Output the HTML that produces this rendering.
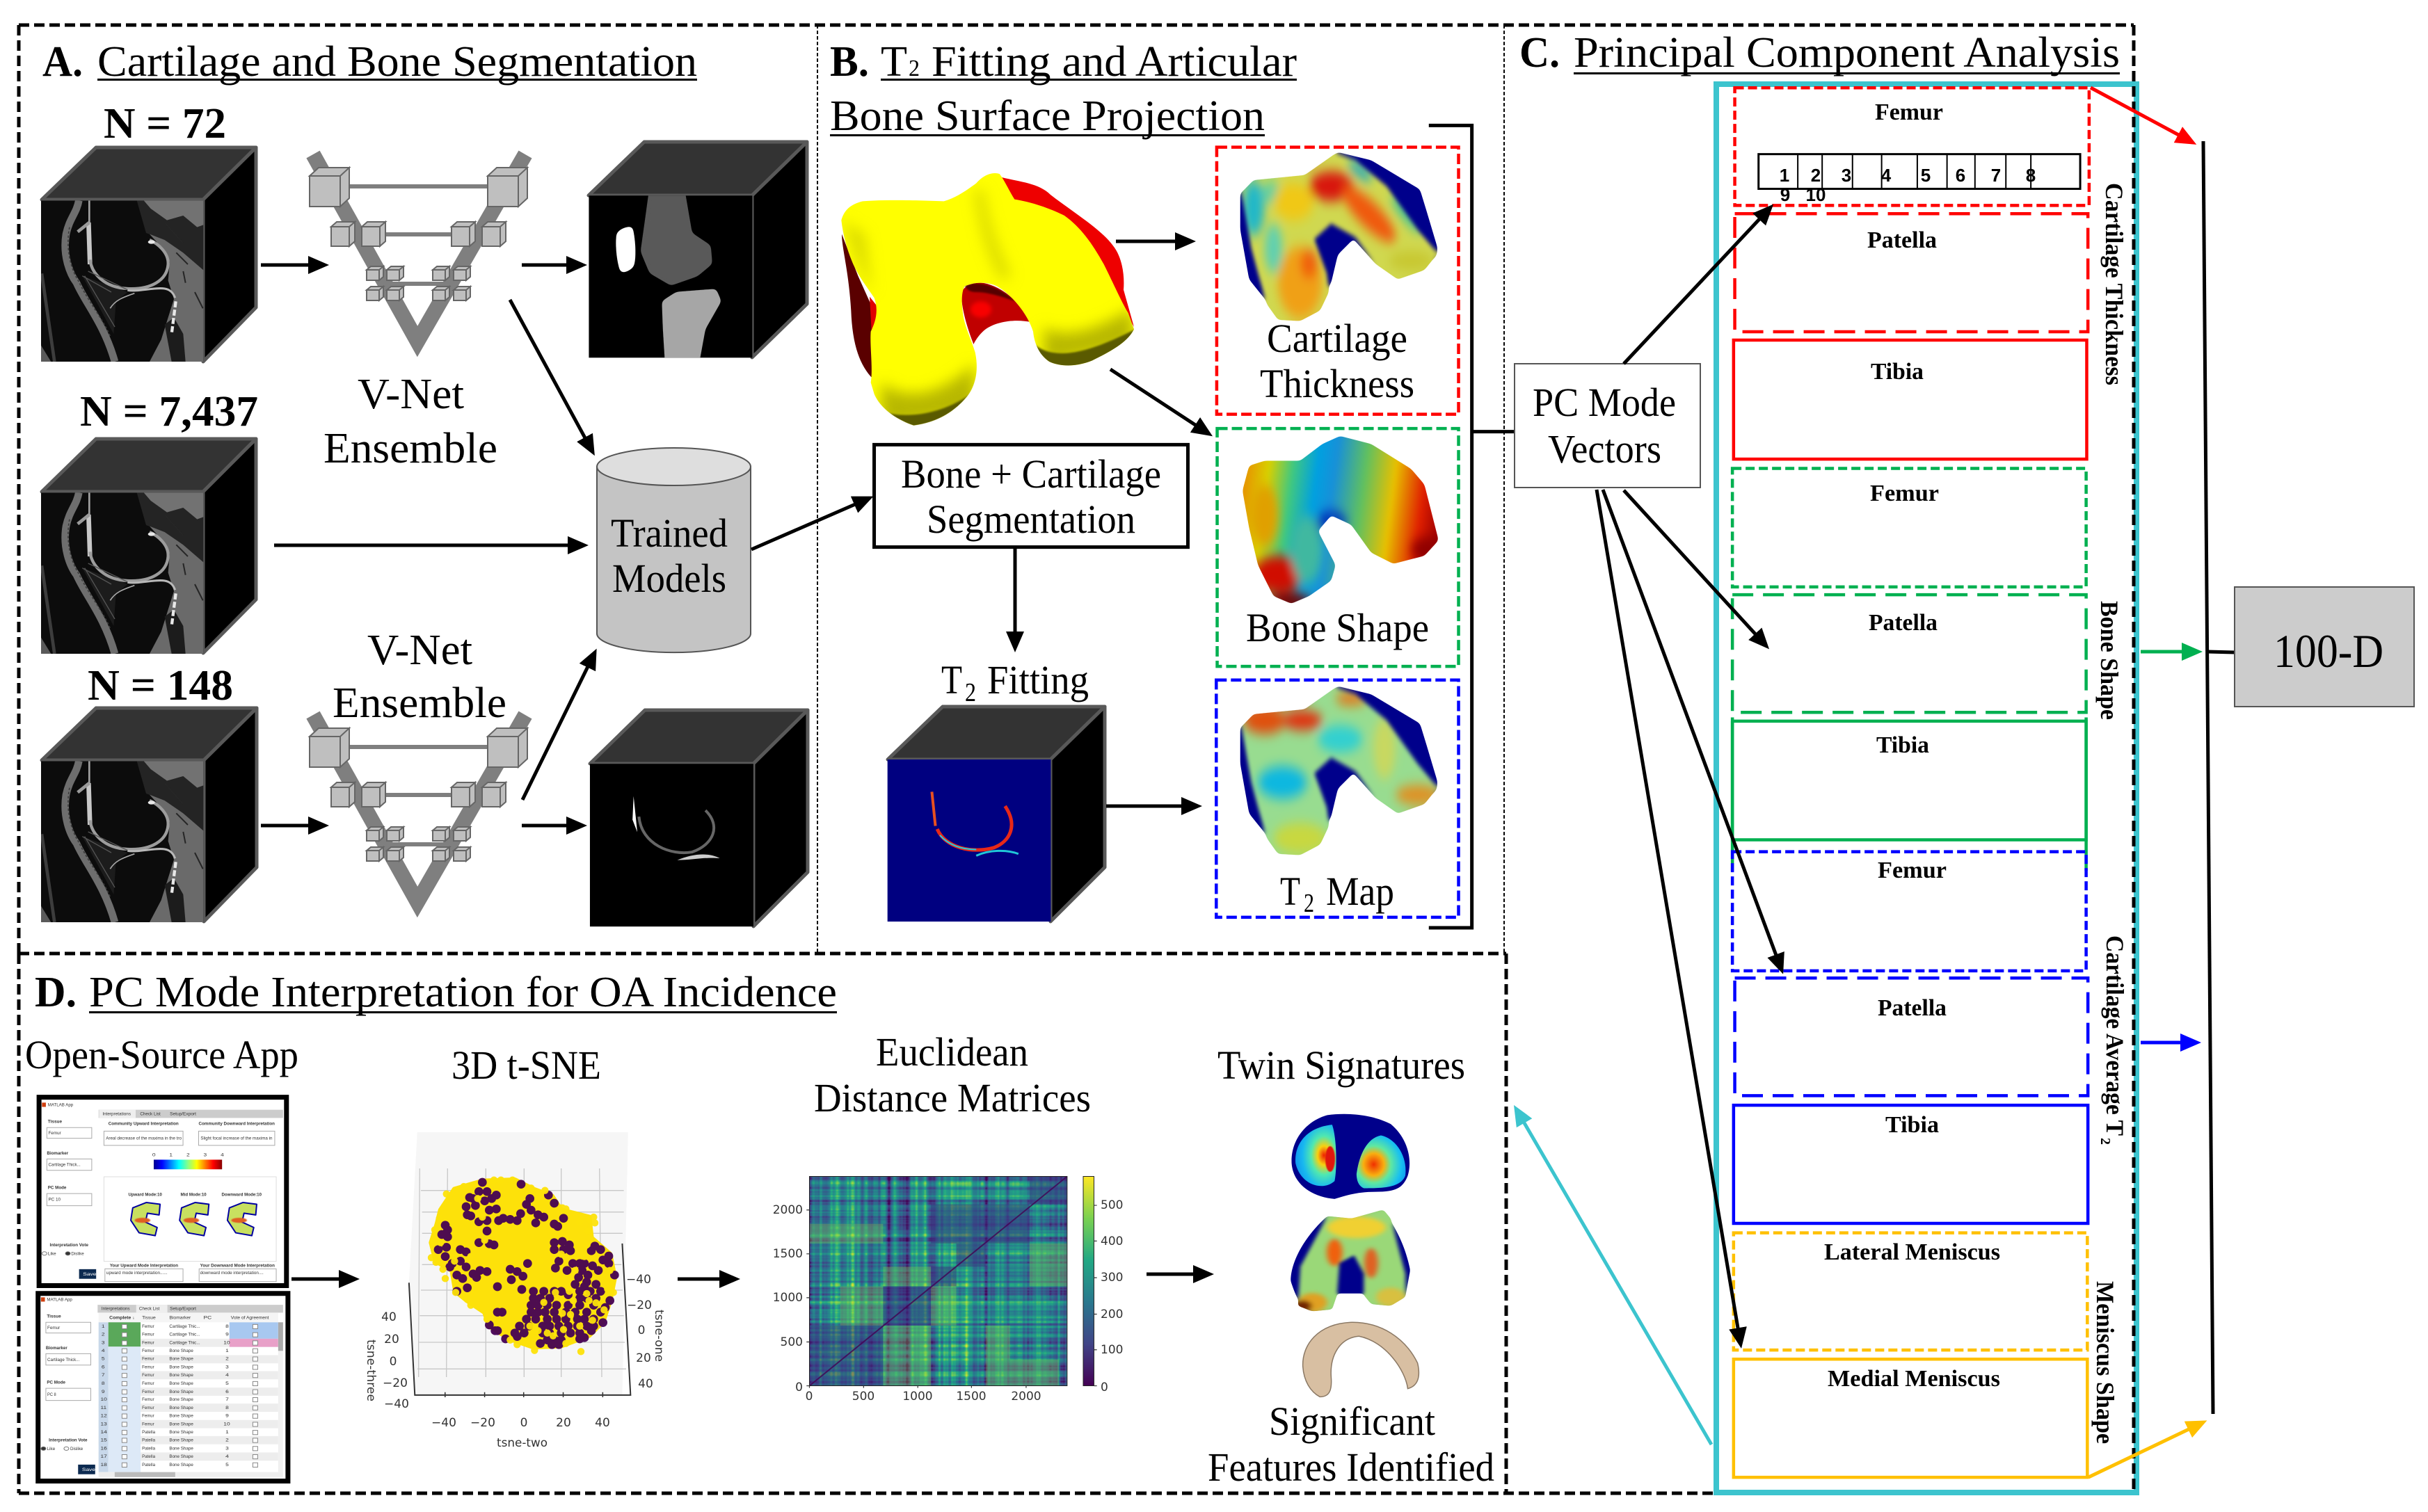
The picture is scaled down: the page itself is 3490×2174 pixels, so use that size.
<!DOCTYPE html>
<html><head><meta charset="utf-8"><title>Knee MRI PCA pipeline</title>
<style>
html,body{margin:0;padding:0;background:#fff}
svg{display:block}
text{font-family:"Liberation Serif",serif;fill:#000}
.z *{vector-effect:non-scaling-stroke}
.b{font-weight:bold}
.t{font-size:62px}
.m{font-size:58px}
.l{font-size:34px;font-weight:bold}
.s{font-family:"Liberation Sans",sans-serif!important}
.a text{font-family:"Liberation Sans",sans-serif;font-size:12px;fill:#333}
.d{font-family:"DejaVu Sans",sans-serif!important;font-size:17px;fill:#333!important}
.dash{fill:none;stroke:#000;stroke-width:5;stroke-dasharray:15 7}
.ar{fill:none;stroke:#000;stroke-width:5;marker-end:url(#mk)}
</style></head><body>
<svg xmlns="http://www.w3.org/2000/svg" width="3490" height="2174" viewBox="0 0 3490 2174">
<defs>
<marker id="mk" markerUnits="userSpaceOnUse" markerWidth="30" markerHeight="30" refX="24" refY="15" orient="auto"><path d="M0,2 L30,15 L0,28Z" fill="#000"/></marker>
<marker id="mr" markerUnits="userSpaceOnUse" markerWidth="30" markerHeight="30" refX="24" refY="15" orient="auto"><path d="M0,2 L30,15 L0,28Z" fill="#f00"/></marker>
<marker id="mg" markerUnits="userSpaceOnUse" markerWidth="30" markerHeight="30" refX="24" refY="15" orient="auto"><path d="M0,2 L30,15 L0,28Z" fill="#00b050"/></marker>
<marker id="mb" markerUnits="userSpaceOnUse" markerWidth="30" markerHeight="30" refX="24" refY="15" orient="auto"><path d="M0,2 L30,15 L0,28Z" fill="#00f"/></marker>
<marker id="my" markerUnits="userSpaceOnUse" markerWidth="30" markerHeight="30" refX="24" refY="15" orient="auto"><path d="M0,2 L30,15 L0,28Z" fill="#ffc000"/></marker>
<marker id="mt" markerUnits="userSpaceOnUse" markerWidth="30" markerHeight="30" refX="24" refY="15" orient="auto"><path d="M0,2 L30,15 L0,28Z" fill="#3cc4ce"/></marker>
<filter id="bl" x="-30%" y="-30%" width="160%" height="160%"><feGaussianBlur stdDeviation="9"/></filter>
<filter id="bm" x="-30%" y="-30%" width="160%" height="160%"><feGaussianBlur stdDeviation="4"/></filter>
<filter id="bs" x="-30%" y="-30%" width="160%" height="160%"><feGaussianBlur stdDeviation="1"/></filter>
<filter id="b3" x="-30%" y="-30%" width="160%" height="160%"><feGaussianBlur stdDeviation="3"/></filter>
<filter id="b20" x="-30%" y="-30%" width="160%" height="160%"><feGaussianBlur stdDeviation="30"/></filter>
<filter id="rnd" x="-5%" y="-5%" width="110%" height="110%" color-interpolation-filters="sRGB"><feGaussianBlur stdDeviation="4"/><feColorMatrix values="1 0 0 0 0 0 1 0 0 0 0 0 1 0 0 0 0 0 14 -6.500"/></filter>
<filter id="hm" x="0" y="0" width="100%" height="100%" color-interpolation-filters="sRGB">
<feTurbulence type="fractalNoise" baseFrequency="0.09 0.0004" numOctaves="2" seed="4" result="a"/>
<feTurbulence type="fractalNoise" baseFrequency="0.0004 0.08" numOctaves="2" seed="9" result="b"/>
<feComposite in="a" in2="b" operator="arithmetic" k1="0" k2="0.5" k3="0.5" k4="0"/>
<feColorMatrix values="1.8 0 0 0 -0.46 1.8 0 0 0 -0.46 1.8 0 0 0 -0.46 0 0 0 0 1"/>
<feComponentTransfer>
<feFuncR type="table" tableValues="0.27 0.25 0.16 0.13 0.48 0.99"/>
<feFuncG type="table" tableValues="0 0.27 0.47 0.66 0.82 0.91"/>
<feFuncB type="table" tableValues="0.33 0.53 0.56 0.52 0.32 0.15"/>
</feComponentTransfer></filter>
<linearGradient id="vir" x1="0" y1="1" x2="0" y2="0"><stop offset="0" stop-color="#440154"/><stop offset=".2" stop-color="#414487"/><stop offset=".4" stop-color="#2a788e"/><stop offset=".6" stop-color="#22a884"/><stop offset=".8" stop-color="#7ad151"/><stop offset="1" stop-color="#fde725"/></linearGradient>
<linearGradient id="jet"><stop offset="0" stop-color="#00008f"/><stop offset=".12" stop-color="#00f"/><stop offset=".37" stop-color="#0ff"/><stop offset=".5" stop-color="#8f8"/><stop offset=".63" stop-color="#ff0"/><stop offset=".87" stop-color="#f00"/><stop offset="1" stop-color="#800"/></linearGradient>
<linearGradient id="bone" gradientUnits="userSpaceOnUse" x1="950" y1="780" x2="1390" y2="860"><stop offset="0" stop-color="#e89000"/><stop offset=".12" stop-color="#d8d000"/><stop offset=".24" stop-color="#40c880"/><stop offset=".36" stop-color="#00a0e0"/><stop offset=".45" stop-color="#1890d8"/><stop offset=".6" stop-color="#60c060"/><stop offset=".75" stop-color="#e8c000"/><stop offset=".9" stop-color="#e02000"/><stop offset="1" stop-color="#a00000"/></linearGradient>
<radialGradient id="tj" cx=".7" cy=".5" r=".7"><stop offset="0" stop-color="#f02000"/><stop offset=".22" stop-color="#f8d010"/><stop offset=".45" stop-color="#50e8b0"/><stop offset=".75" stop-color="#18b8f0"/><stop offset="1" stop-color="#1098f0"/></radialGradient>
<radialGradient id="tj2" cx=".35" cy=".55" r=".7"><stop offset="0" stop-color="#f03000"/><stop offset=".3" stop-color="#f8b010"/><stop offset=".5" stop-color="#60e8a0"/><stop offset=".8" stop-color="#18c0f0"/><stop offset="1" stop-color="#1098f0"/></radialGradient>
<clipPath id="cpK"><path d="M948,310 L975,290 L1090,282 L1160,247 L1205,258 L1275,300 L1345,370 L1390,408 L1360,435 L1300,450 L1250,425 L1205,382 L1150,360 L1112,385 L1140,440 L1145,470 L1125,500 L1080,517 L1030,515 L1005,490 L985,440 L970,400 L960,360Z"/></clipPath>
<clipPath id="cpB"><path d="M950,790 L965,750 L1000,742 L1080,742 L1130,715 L1170,702 L1240,715 L1330,755 L1360,780 L1392,870 L1360,895 L1290,908 L1240,890 L1195,845 L1150,830 L1120,855 L1160,910 L1150,935 L1100,960 L1060,972 L1020,960 L985,910 L965,850Z"/></clipPath>
<clipPath id="cpF"><path d="M1180,738 L1230,745 L1295,720 L1310,745 L1340,900 L1340,965 L1310,990 L1270,985 L1255,960 L1255,900 L1235,848 L1205,870 L1200,960 L1190,1000 L1150,1005 L1120,990 L1125,880 L1160,790Z"/></clipPath>
<clipPath id="cpM"><rect x="27" y="25" width="700" height="695"/></clipPath>
<clipPath id="cpS"><rect x="1106" y="315" width="307" height="261"/></clipPath>
<clipPath id="cpY"><path id="yp" d="M28,260 C40,215 70,190 120,178 C230,170 380,175 470,178 C520,165 570,130 610,100 C640,65 680,50 710,60 C730,85 750,130 775,170 C840,180 920,205 990,240 C1060,290 1110,360 1160,450 C1200,530 1240,620 1265,660 L1290,730 C1260,790 1180,830 1110,865 C1050,890 980,895 925,870 C880,840 860,790 855,740 C830,660 760,580 700,545 C660,525 600,525 560,545 C545,570 545,620 555,680 C565,730 590,780 605,830 C620,900 610,970 570,1020 C520,1080 450,1130 340,1145 C280,1125 200,1080 170,1010 L155,960 C165,900 150,800 155,740 C175,700 190,650 170,595 C140,550 100,500 75,440 C50,380 35,320 28,260Z"/></clipPath>
<g id="kback"><path d="M945,310 L945,370 L965,450 L1010,490 L1130,480 L1150,455 L1165,410 L1200,385 L1250,425 L1290,440 L1385,415 L1390,400 L1365,340 L1350,305 L1240,258 L1165,245 L1100,300Z" fill="#00008b"/></g>
<g id="bL"><path d="M0,0H44V44H0Z M0,0L13,-12H57L44,0Z M44,0L57,-12V32L44,44Z" fill="#bfbfbf" stroke="#666" stroke-width="2"/></g>
<g id="bM"><path d="M0,0H26V28H0Z M0,0L8,-7H34L26,0Z M26,0L34,-7V21L26,28Z" fill="#bfbfbf" stroke="#666" stroke-width="2"/></g>
<g id="bS"><path d="M0,0H18V15H0Z M0,0L6,-5H24L18,0Z M18,0L24,-5V10L18,15Z" fill="#bfbfbf" stroke="#666" stroke-width="2"/></g>
<g id="vnet">
<polyline points="450,222 600,491 755,222" fill="none" stroke="#7f7f7f" stroke-width="22"/>
<path d="M490,268H705 M545,337H652 M545,408H655" stroke="#7f7f7f" stroke-width="6" fill="none"/>
<use href="#bL" x="445" y="253"/><use href="#bL" x="701" y="253"/>
<use href="#bM" x="476" y="326"/><use href="#bM" x="520" y="326"/><use href="#bM" x="649" y="326"/><use href="#bM" x="693" y="326"/>
<use href="#bS" x="527" y="388"/><use href="#bS" x="556" y="388"/><use href="#bS" x="622" y="388"/><use href="#bS" x="652" y="388"/>
<use href="#bS" x="527" y="417"/><use href="#bS" x="556" y="417"/><use href="#bS" x="622" y="417"/><use href="#bS" x="652" y="417"/>
</g>
<g id="mri" transform="translate(50,280) scale(.33333)"><g clip-path="url(#cpM)">
<rect x="27" y="25" width="700" height="695" fill="#0c0c0c"/>
<path d="M440,25L470,25L500,60L570,110L640,90L700,140L727,130V325L640,250L560,195L480,165Z" fill="#242424"/>
<path d="M470,25H727V130L700,140L640,90L570,110L500,60Z" fill="#727272"/>
<path d="M495,170L560,195L640,250L727,325V720H495L545,625L600,450L575,370L582,290L545,225Z" fill="#6a6a6a"/>
<path d="M560,560L600,530L640,600L650,720H590Z" fill="#1c1c1c"/>
<path d="M27,650L70,720H27Z" fill="#5a5a5a"/>
<path d="M205,350L400,420L350,460L340,600Z" fill="#1c1c1c"/>
<g fill="none" filter="url(#bs)">
<path d="M30,340L85,720" stroke="#3e3e3e" stroke-width="14"/>
<path d="M190,25C180,80 150,100 135,170C120,260 150,340 180,380C220,470 300,560 345,720" stroke="#6e6e6e" stroke-width="32"/>
<path d="M150,140C130,240 160,330 190,375C230,460 290,530 325,610" stroke="#3e3e3e" stroke-width="5" stroke-dasharray="10 8"/>
<path d="M235,25L235,230" stroke="#a0a0a0" stroke-width="8"/>
<path d="M232,120L238,300" stroke="#c8c8c8" stroke-width="20"/>
<path d="M235,120L185,160" stroke="#9a9a9a" stroke-width="14"/>
<path d="M238,280C245,340 300,400 400,405C500,410 570,370 575,300C578,250 530,210 495,195" stroke="#9c9c9c" stroke-width="13"/>
<path d="M400,412C440,420 520,398 560,405C590,410 600,430 605,445" stroke="#b8b8b8" stroke-width="9"/>
<path d="M430,425C390,440 350,450 325,490" stroke="#a8a8a8" stroke-width="5"/>
<path d="M205,350L330,420M215,350L345,570M230,330L400,410" stroke="#555" stroke-width="4"/>
<path d="M608,460L590,600" stroke="#e8e8e8" stroke-width="13" stroke-dasharray="26 10"/>
<path d="M640,330L650,380M690,420L725,490M610,250L660,300M560,120L640,210" stroke="#252525" stroke-width="6"/>
<ellipse cx="503" cy="204" rx="15" ry="8" fill="#e8e8e8" stroke="none"/>
</g></g></g>
</defs>
<rect width="3490" height="2174" fill="#fff"/>

<!-- frames -->
<path d="M27,36H3067 M27,36V1371 M27,1371H2165 M27,1371V2147 M27,2147H2467 M2165,1371V2147" class="dash"/>
<path d="M1175,36V1371 M2162,36V1370" fill="none" stroke="#000" stroke-width="2" stroke-dasharray="5 3"/>

<!-- Section A -->
<text x="61" y="109" class="t b" textLength="58" lengthAdjust="spacingAndGlyphs">A.</text>
<text x="140" y="109" class="t" textLength="862" lengthAdjust="spacingAndGlyphs">Cartilage and Bone Segmentation</text>
<rect x="140" y="113" width="862" height="3"/>
<text x="149" y="198" class="t b" textLength="176" lengthAdjust="spacingAndGlyphs">N = 72</text>
<text x="115" y="612" class="t b" textLength="256" lengthAdjust="spacingAndGlyphs">N = 7,437</text>
<text x="126" y="1006" class="t b" textLength="209" lengthAdjust="spacingAndGlyphs">N = 148</text>

<!-- cubes -->
<g stroke="#595959" stroke-width="5" stroke-linejoin="round">
<path d="M60,287L138,212H368L292,287Z" fill="#333"/><path d="M292,287L368,212V442L292,520Z" fill="#000"/>
<path d="M60,707L138,631H368L292,707Z" fill="#333"/><path d="M292,707L368,631V862L292,939Z" fill="#000"/>
<path d="M60,1093L138,1018H369L293,1093Z" fill="#333"/><path d="M293,1093L369,1018V1247L293,1325Z" fill="#000"/>
<path d="M846,281L926,204H1160L1081,281Z" fill="#333"/><path d="M1081,281L1160,204V437L1081,514Z" fill="#000"/>
<path d="M848,1098L927,1021H1161L1083,1098Z" fill="#333"/><path d="M1083,1098L1161,1021V1254L1083,1332Z" fill="#000"/>
<path d="M1355,1016L1276,1092H1510L1588,1016Z" fill="#333"/><path d="M1510,1092L1588,1016V1247L1510,1325Z" fill="#000"/>
</g>
<use href="#mri"/><use href="#mri" y="420"/><use href="#mri" y="806"/>
<g class="z" transform="scale(.7653,.8929)">
<rect x="1106" y="315" width="307" height="261" fill="#000"/>
<g clip-path="url(#cpS)"><g filter="url(#rnd)">
<path d="M1220,300L1285,300L1300,375L1335,395L1338,425L1310,445L1260,460L1220,440L1203,405L1212,350Z" fill="#595959"/>
<path d="M1158,375C1170,365 1180,365 1188,365C1195,390 1195,420 1190,430C1180,438 1170,440 1165,438C1158,420 1155,395 1158,375Z" fill="#fff"/>
<path d="M1243,485L1270,470L1345,465L1355,485L1325,530L1310,600L1250,600L1245,530Z" fill="#a6a6a6"/>
</g></g>
<rect x="1108" y="1230" width="307" height="262" fill="#000"/>
<path d="M1190,1282L1197,1340L1188,1320Z" fill="#fff"/>
<path d="M1200,1315C1205,1360 1260,1378 1300,1372C1340,1360 1355,1330 1325,1305" fill="none" stroke="#666" stroke-width="4"/>
<path d="M1272,1385C1300,1375 1330,1372 1352,1382C1320,1380 1300,1385 1272,1385Z" fill="#ccc"/>
</g>
<use href="#vnet"/><use href="#vnet" transform="translate(0,806)"/>
<text x="514" y="587" class="t" textLength="153" lengthAdjust="spacingAndGlyphs">V-Net</text>
<text x="465" y="665" class="t" textLength="250" lengthAdjust="spacingAndGlyphs">Ensemble</text>
<text x="528" y="955" class="t" textLength="151" lengthAdjust="spacingAndGlyphs">V-Net</text>
<text x="478" y="1031" class="t" textLength="250" lengthAdjust="spacingAndGlyphs">Ensemble</text>

<!-- cylinder -->
<path d="M858,671V911A110,27 0 0 0 1079,911V671Z" fill="#c4c4c4" stroke="#555" stroke-width="2"/>
<ellipse cx="968.500" cy="671" rx="110.500" ry="27" fill="#dedede" stroke="#555" stroke-width="2"/>
<text x="878" y="786" class="m" textLength="168" lengthAdjust="spacingAndGlyphs">Trained</text>
<text x="880" y="851" class="m" textLength="164" lengthAdjust="spacingAndGlyphs">Models</text>

<g>
<line x1="375" y1="381" x2="467" y2="381" class="ar"/><line x1="750" y1="381" x2="838" y2="381" class="ar"/>
<line x1="375" y1="1187" x2="467" y2="1187" class="ar"/><line x1="750" y1="1187" x2="838" y2="1187" class="ar"/>
<line x1="733" y1="431" x2="852" y2="650" class="ar"/>
<line x1="394" y1="784" x2="840" y2="784" class="ar"/>
<line x1="751" y1="1150" x2="855" y2="938" class="ar"/>
<line x1="1080" y1="790" x2="1250" y2="716" class="ar"/>
</g>

<!-- Section B -->
<text x="1193" y="109" class="t b" textLength="56" lengthAdjust="spacingAndGlyphs">B.</text>
<text x="1266" y="109" class="t" textLength="38" lengthAdjust="spacingAndGlyphs">T</text>
<text x="1306" y="109" font-size="34" textLength="16" lengthAdjust="spacingAndGlyphs">2</text>
<text x="1339" y="109" class="t" textLength="525" lengthAdjust="spacingAndGlyphs">Fitting and Articular</text>
<rect x="1266" y="113" width="598" height="3"/>
<text x="1193" y="187" class="t" textLength="625" lengthAdjust="spacingAndGlyphs">Bone Surface Projection</text>
<rect x="1193" y="193" width="625" height="3"/>

<!-- big femur -->
<g transform="translate(1200,230) scale(.33333)">
<path d="M720,75C800,95 880,100 930,150C1020,220 1150,300 1200,370C1240,420 1250,500 1245,560L1290,720L1100,400L760,170Z" fill="#ee0000"/>
<path d="M30,320C30,380 60,480 70,650C75,780 100,880 165,945L190,700L100,500Z" fill="#5a0000"/>
<path d="M150,590L190,640L160,770Z" fill="#e00000"/>
<path d="M545,570C560,540 610,520 660,535C740,560 800,620 850,700C780,685 700,695 650,730C630,745 610,770 598,795C570,720 545,640 545,570Z" fill="#c00000"/>
<path d="M560,540C620,520 700,540 780,610C720,590 660,570 610,570C590,570 570,565 560,540Z" fill="#560000" filter="url(#bm)"/>
<ellipse cx="630" cy="645" rx="45" ry="35" fill="#f80000" filter="url(#bl)"/>
<use href="#yp" fill="#ffff00"/>
<g clip-path="url(#cpY)">
<g filter="url(#b20)" fill="#b8b800">
<path d="M600,130C620,250 640,380 720,520L760,500C700,380 660,260 640,130Z" opacity=".55"/>
<path d="M30,260C60,330 80,420 160,580L130,320Z" opacity=".5"/>
<path d="M900,720C1000,780 1150,720 1280,640L1290,800L900,880Z"/>
<path d="M200,960C300,1040 450,1020 600,880L610,1100L200,1150Z"/>
</g>
<path d="M170,1075C280,1120 450,1110 600,1000L580,1160H170Z" fill="#5a5a00" filter="url(#bm)"/>
<path d="M860,795C950,870 1100,830 1295,730L1300,900H860Z" fill="#5a5a00" filter="url(#bm)"/>
</g></g>

<g class="z" transform="translate(1180,0) scale(.6378,.8929)">
<!-- cartilage thickness knee -->
<g filter="url(#rnd)">
<use href="#kback"/>
<g clip-path="url(#cpK)"><rect x="940" y="240" width="460" height="290" fill="#d0d850"/>
<g filter="url(#bl)">
<ellipse cx="975" cy="335" rx="24" ry="45" fill="#20b8c8"/>
<ellipse cx="1015" cy="310" rx="22" ry="18" fill="#60d0a0"/>
<ellipse cx="1065" cy="325" rx="45" ry="30" fill="#f0c818"/>
<ellipse cx="1150" cy="300" rx="50" ry="24" fill="#d81808"/>
<ellipse cx="1235" cy="345" rx="72" ry="22" fill="#f05808" transform="rotate(35 1235 345)"/>
<ellipse cx="1215" cy="275" rx="30" ry="10" fill="#20a8c0" transform="rotate(30 1215 275)"/>
<ellipse cx="1320" cy="345" rx="45" ry="10" fill="#30c0a0" transform="rotate(40 1320 345)"/>
<ellipse cx="1080" cy="455" rx="50" ry="58" fill="#f0a018"/>
<ellipse cx="1100" cy="425" rx="20" ry="24" fill="#f06010"/>
<ellipse cx="1020" cy="400" rx="20" ry="40" fill="#60d0b0"/>
<ellipse cx="1330" cy="420" rx="50" ry="16" fill="#c8c830"/>
</g></g></g>
<!-- bone -->
<g filter="url(#rnd)">
<path d="M950,790 L965,750 L1000,742 L1080,742 L1130,715 L1170,702 L1240,715 L1330,755 L1360,780 L1392,870 L1360,895 L1290,908 L1240,890 L1195,845 L1150,830 L1120,855 L1160,910 L1150,935 L1100,960 L1060,972 L1020,960 L985,910 L965,850Z" fill="url(#bone)"/>
<g clip-path="url(#cpB)"><g filter="url(#bl)">
<ellipse cx="1030" cy="925" rx="55" ry="30" fill="#d01000"/>
<ellipse cx="1000" cy="830" rx="30" ry="50" fill="#e0a000"/>
<ellipse cx="1150" cy="845" rx="35" ry="22" fill="#0030b8"/>
<ellipse cx="1095" cy="885" rx="35" ry="55" fill="#40b8a0"/>
<ellipse cx="1060" cy="970" rx="50" ry="15" fill="#700000"/>
<ellipse cx="1370" cy="885" rx="40" ry="20" fill="#900000"/>
</g></g></g>
<!-- T2 knee -->
<g filter="url(#rnd)">
<use href="#kback" transform="translate(0,860)"/>
<g clip-path="url(#cpK)" transform="translate(0,860)"><rect x="940" y="240" width="460" height="290" fill="#98dc90"/>
<g filter="url(#bl)">
<ellipse cx="1000" cy="300" rx="48" ry="22" fill="#e05010"/>
<ellipse cx="1085" cy="300" rx="45" ry="16" fill="#e03010"/>
<ellipse cx="1195" cy="265" rx="35" ry="10" fill="#e87010"/>
<ellipse cx="1040" cy="400" rx="55" ry="26" fill="#10b8e0"/>
<ellipse cx="1080" cy="490" rx="60" ry="25" fill="#c8d840"/>
<ellipse cx="1345" cy="420" rx="50" ry="16" fill="#e09020"/>
<ellipse cx="1170" cy="330" rx="50" ry="22" fill="#30d0d0"/>
<ellipse cx="1270" cy="345" rx="25" ry="50" fill="#c8d860"/>
</g></g></g>
<!-- T2 cube front -->
<rect x="150" y="1223" width="368" height="261" fill="#000080"/>
<g fill="none" stroke-width="3">
<path d="M250,1275L258,1330" stroke="#e85020" stroke-width="4"/>
<path d="M262,1335C280,1365 340,1375 390,1365C425,1355 445,1330 415,1298" stroke="#e82818" stroke-width="5"/>
<path d="M268,1345C290,1362 320,1368 350,1368" stroke="#20d0e0" stroke-width="2"/>
<path d="M350,1378C380,1368 420,1368 445,1375" stroke="#20c8d8"/>
</g>
<g fill="none" stroke-width="4.500" stroke-dasharray="15 6">
<rect x="892" y="237" width="545" height="430" stroke="#f00"/>
<rect x="893" y="690" width="544" height="383" stroke="#00b050"/>
<rect x="891" y="1095" width="546" height="382" stroke="#00f"/>
</g>
<path d="M1370,202H1467V1494H1370" fill="none" stroke="#000" stroke-width="5"/>
<path d="M1467,695H1563" fill="none" stroke="#000" stroke-width="5"/>
<rect x="120" y="716" width="707" height="165" fill="#fff" stroke="#000" stroke-width="5"/>
</g>
<text x="1821" y="506" class="m" textLength="202" lengthAdjust="spacingAndGlyphs">Cartilage</text>
<text x="1811" y="571" class="m" textLength="222" lengthAdjust="spacingAndGlyphs">Thickness</text>
<text x="1791" y="922" class="m" textLength="263" lengthAdjust="spacingAndGlyphs">Bone Shape</text>
<text x="1840" y="1301" class="m" textLength="29" lengthAdjust="spacingAndGlyphs">T</text>
<text x="1874" y="1311" font-size="38" textLength="15" lengthAdjust="spacingAndGlyphs">2</text>
<text x="1906" y="1301" class="m" textLength="98" lengthAdjust="spacingAndGlyphs">Map</text>
<text x="1353" y="997" class="m" textLength="30" lengthAdjust="spacingAndGlyphs">T</text>
<text x="1387" y="1008" font-size="38" textLength="16" lengthAdjust="spacingAndGlyphs">2</text>
<text x="1419" y="997" class="m" textLength="146" lengthAdjust="spacingAndGlyphs">Fitting</text>
<text x="1295" y="701" class="m" textLength="374" lengthAdjust="spacingAndGlyphs">Bone + Cartilage</text>
<text x="1332" y="766" class="m" textLength="300" lengthAdjust="spacingAndGlyphs">Segmentation</text>
<line x1="1604" y1="347" x2="1713" y2="347" class="ar"/>
<line x1="1596" y1="531" x2="1738" y2="624" class="ar"/>
<line x1="1459" y1="786" x2="1459" y2="932" class="ar"/>
<line x1="1590" y1="1159" x2="1722" y2="1159" class="ar"/>

<!-- Section C -->
<text x="2184" y="96" class="t b" textLength="58" lengthAdjust="spacingAndGlyphs">C.</text>
<text x="2262" y="96" class="t" textLength="785" lengthAdjust="spacingAndGlyphs">Principal Component Analysis</text>
<rect x="2262" y="104" width="785" height="3"/>
<rect x="2467" y="121" width="604" height="2025" fill="none" stroke="#3cc4ce" stroke-width="8"/>
<line x1="3067" y1="36" x2="3067" y2="2147" class="dash"/>

<g class="z" transform="translate(2150,0) scale(.8546,.7015)" fill="none" stroke-width="4.500">
<rect x="402" y="180" width="596" height="241" stroke="#f00" stroke-dasharray="13 6"/>
<rect x="402" y="438" width="594" height="242" stroke="#f00" stroke-dasharray="30 14"/>
<rect x="400" y="697" width="594" height="244" stroke="#f00"/>
<rect x="398" y="960" width="595" height="243" stroke="#00b050" stroke-dasharray="13 6"/>
<rect x="398" y="1219" width="595" height="241" stroke="#00b050" stroke-dasharray="30 14"/>
<path d="M398,1478H993V1785" stroke="#00b050"/><path d="M398,1478V1785" stroke="#00b050"/>
<rect x="442" y="316" width="541" height="71" stroke="#000" stroke-width="3"/>
<path d="M508,316V387M549,316V387M600,316V387M649,316V387M709,316V387M759,316V387M806,316V387M858,316V387M900,316V387" stroke="#000" stroke-width="2"/>
</g>
<g class="z" transform="translate(2150,1100) scale(.8546,.685)" fill="none" stroke-width="4.500">
<path d="M398,-100V157H993V-100" stroke="#00b050"/>
<rect x="398" y="182" width="595" height="250" stroke="#00f" stroke-dasharray="13 6"/>
<rect x="402" y="447" width="594" height="247" stroke="#00f" stroke-dasharray="30 14"/>
<rect x="400" y="714" width="596" height="248" stroke="#00f"/>
<rect x="400" y="982" width="595" height="246" stroke="#ffc000" stroke-dasharray="13 6"/>
<rect x="400" y="1247" width="595" height="248" stroke="#ffc000"/>
</g>
<g text-anchor="middle" class="s">
<text x="2565" y="261" font-size="26" class="s" font-weight="bold">1</text><text x="2610" y="261" font-size="26" class="s" font-weight="bold">2</text><text x="2654" y="261" font-size="26" class="s" font-weight="bold">3</text><text x="2711" y="261" font-size="26" class="s" font-weight="bold">4</text><text x="2768" y="261" font-size="26" class="s" font-weight="bold">5</text><text x="2818" y="261" font-size="26" class="s" font-weight="bold">6</text><text x="2869" y="261" font-size="26" class="s" font-weight="bold">7</text><text x="2919" y="261" font-size="26" class="s" font-weight="bold">8</text>
<text x="2566" y="289" font-size="26" class="s" font-weight="bold">9</text><text x="2610" y="289" font-size="26" class="s" font-weight="bold">10</text>
</g>
<text x="2695" y="172" class="l" textLength="98" lengthAdjust="spacingAndGlyphs">Femur</text>
<text x="2684" y="356" class="l" textLength="100" lengthAdjust="spacingAndGlyphs">Patella</text>
<text x="2689" y="545" class="l" textLength="76" lengthAdjust="spacingAndGlyphs">Tibia</text>
<text x="2688" y="720" class="l" textLength="99" lengthAdjust="spacingAndGlyphs">Femur</text>
<text x="2686" y="906" class="l" textLength="99" lengthAdjust="spacingAndGlyphs">Patella</text>
<text x="2697" y="1082" class="l" textLength="76" lengthAdjust="spacingAndGlyphs">Tibia</text>
<text x="2699" y="1262" class="l" textLength="99" lengthAdjust="spacingAndGlyphs">Femur</text>
<text x="2699" y="1460" class="l" textLength="99" lengthAdjust="spacingAndGlyphs">Patella</text>
<text x="2710" y="1628" class="l" textLength="77" lengthAdjust="spacingAndGlyphs">Tibia</text>
<text x="2622" y="1811" class="l" textLength="253" lengthAdjust="spacingAndGlyphs">Lateral Meniscus</text>
<text x="2627" y="1993" class="l" textLength="248" lengthAdjust="spacingAndGlyphs">Medial Meniscus</text>
<text transform="translate(3027,263) rotate(90)" font-size="36" class="b" textLength="291" lengthAdjust="spacingAndGlyphs">Cartilage Thickness</text>
<text transform="translate(3020,864) rotate(90)" font-size="36" class="b" textLength="171" lengthAdjust="spacingAndGlyphs">Bone Shape</text>
<text transform="translate(3028,1345) rotate(90)" font-size="36" class="b" textLength="288" lengthAdjust="spacingAndGlyphs">Cartilage Average T</text>
<text transform="translate(3020,1636) rotate(90)" font-size="20" class="b">2</text>
<text transform="translate(3014,1842) rotate(90)" font-size="36" class="b" textLength="234" lengthAdjust="spacingAndGlyphs">Meniscus Shape</text>

<rect x="2177" y="523" width="267" height="178" fill="#fff" stroke="#555" stroke-width="2"/>
<text x="2203" y="598" class="m" textLength="206" lengthAdjust="spacingAndGlyphs">PC Mode</text>
<text x="2225" y="665" class="m" textLength="163" lengthAdjust="spacingAndGlyphs">Vectors</text>
<line x1="2334" y1="523" x2="2545" y2="298" class="ar"/>
<line x1="2334" y1="705" x2="2539" y2="929" class="ar"/>
<line x1="2304" y1="704" x2="2561" y2="1395" class="ar"/>
<line x1="2295" y1="704" x2="2502" y2="1933" class="ar"/>
<line x1="3005" y1="126" x2="3152" y2="205" stroke="#f00" stroke-width="5" marker-end="url(#mr)"/>
<line x1="3167" y1="203" x2="3181" y2="2033" stroke="#000" stroke-width="5"/>
<line x1="3077" y1="937" x2="3160" y2="937" stroke="#00b050" stroke-width="5" marker-end="url(#mg)"/>
<line x1="3077" y1="1499" x2="3158" y2="1499" stroke="#00f" stroke-width="5" marker-end="url(#mb)"/>
<line x1="3002" y1="2124" x2="3167" y2="2045" stroke="#ffc000" stroke-width="5" marker-end="url(#my)"/>
<line x1="2460" y1="2077" x2="2179" y2="1594" stroke="#3cc4ce" stroke-width="5" marker-end="url(#mt)"/>
<line x1="3173" y1="937" x2="3212" y2="938" stroke="#000" stroke-width="5"/>
<rect x="3212" y="844" width="258" height="172" fill="#ccc" stroke="#555" stroke-width="2"/>
<text x="3268" y="959" font-size="68" textLength="158" lengthAdjust="spacingAndGlyphs">100-D</text>

<!-- Section D -->
<text x="50" y="1447" class="t b" textLength="60" lengthAdjust="spacingAndGlyphs">D.</text>
<text x="128" y="1447" class="t" textLength="1075" lengthAdjust="spacingAndGlyphs">PC Mode Interpretation for OA Incidence</text>
<rect x="128" y="1454" width="1075" height="3"/>
<text x="36" y="1536" class="m" textLength="393" lengthAdjust="spacingAndGlyphs">Open-Source App</text>
<text x="649" y="1551" class="m" textLength="215" lengthAdjust="spacingAndGlyphs">3D t-SNE</text>
<text x="1259" y="1532" class="m" textLength="219" lengthAdjust="spacingAndGlyphs">Euclidean</text>
<text x="1170" y="1598" class="m" textLength="398" lengthAdjust="spacingAndGlyphs">Distance Matrices</text>
<text x="1750" y="1551" class="m" textLength="356" lengthAdjust="spacingAndGlyphs">Twin Signatures</text>
<text x="1824" y="2063" class="m" textLength="239" lengthAdjust="spacingAndGlyphs">Significant</text>
<text x="1736" y="2129" class="m" textLength="412" lengthAdjust="spacingAndGlyphs">Features Identified</text>
<line x1="419" y1="1839" x2="511" y2="1839" class="ar"/>
<line x1="974" y1="1839" x2="1058" y2="1839" class="ar"/>
<line x1="1648" y1="1832" x2="1739" y2="1832" class="ar"/>

<!-- App windows -->
<g class="z a" transform="translate(0,1370) scale(.7015,.5128)">
<rect x="80" y="405" width="507" height="528" fill="#fff" stroke="#000" stroke-width="7"/>
<rect x="78" y="955" width="512" height="526" fill="#fff" stroke="#000" stroke-width="7"/>
<!-- window 1 -->
<rect x="202" y="440" width="378" height="23" fill="#ccc"/><rect x="203" y="440" width="75" height="23" fill="#eee"/>
<rect x="86" y="420" width="8" height="12" fill="#d04010"/>
<text x="98" y="430" textLength="52" lengthAdjust="spacingAndGlyphs">MATLAB App</text>
<text x="210" y="455" textLength="58" lengthAdjust="spacingAndGlyphs">Interpretations</text>
<text x="287" y="455" textLength="42" lengthAdjust="spacingAndGlyphs">Check List</text>
<text x="348" y="455" textLength="54" lengthAdjust="spacingAndGlyphs">Setup/Export</text>
<text x="98" y="477" textLength="29" lengthAdjust="spacingAndGlyphs" font-weight="bold">Tissue</text>
<text x="96" y="566" textLength="44" lengthAdjust="spacingAndGlyphs" font-weight="bold">Biomarker</text>
<text x="98" y="662" textLength="38" lengthAdjust="spacingAndGlyphs" font-weight="bold">PC Mode</text>
<g fill="#fff" stroke="#aaa"><rect x="96" y="490" width="92" height="30"/><rect x="96" y="578" width="92" height="32"/><rect x="96" y="675" width="92" height="34"/>
<rect x="213" y="500" width="162" height="40"/><rect x="407" y="500" width="156" height="40"/><rect x="213" y="628" width="353" height="237" stroke="#ddd"/><rect x="215" y="886" width="160" height="36"/><rect x="408" y="886" width="158" height="36"/></g>
<text x="99" y="509" textLength="26" lengthAdjust="spacingAndGlyphs">Femur</text>
<text x="99" y="598" textLength="66" lengthAdjust="spacingAndGlyphs">Cartilage Thick...</text>
<text x="99" y="695" textLength="25" lengthAdjust="spacingAndGlyphs">PC 10</text>
<text x="222" y="483" textLength="144" lengthAdjust="spacingAndGlyphs" font-weight="bold">Community Upward Interpretation</text>
<text x="407" y="483" textLength="156" lengthAdjust="spacingAndGlyphs" font-weight="bold">Community Downward Interpretation</text>
<text x="217" y="524" textLength="155" lengthAdjust="spacingAndGlyphs">Areal decrease of the maxima in the tro</text>
<text x="411" y="524" textLength="147" lengthAdjust="spacingAndGlyphs">Slight focal increase of the maxima in</text>
<text x="312" y="570">0</text><text x="347" y="570">1</text><text x="382" y="570">2</text><text x="417" y="570">3</text><text x="452" y="570">4</text>
<rect x="315" y="580" width="140" height="27" fill="url(#jet)"/>
<text x="263" y="682" textLength="69" lengthAdjust="spacingAndGlyphs" font-weight="bold">Upward Mode:10</text>
<text x="370" y="682" textLength="53" lengthAdjust="spacingAndGlyphs" font-weight="bold">Mid Mode:10</text>
<text x="454" y="682" textLength="82" lengthAdjust="spacingAndGlyphs" font-weight="bold">Downward Mode:10</text>
<g id="mk1"><path d="M272,715L300,700L328,705L326,735L302,730L298,755L322,770L318,793L285,785L268,750Z" fill="#c8e060" stroke="#0000a0" stroke-width="2" stroke-linejoin="round"/><ellipse cx="292" cy="750" rx="16" ry="7" fill="#e06020" filter="url(#bs)"/></g>
<use href="#mk1" transform="translate(100,0)"/><use href="#mk1" transform="translate(198,0)"/>
<text x="102" y="823" textLength="79" lengthAdjust="spacingAndGlyphs" font-weight="bold">Interpretation Vote</text>
<circle cx="91" cy="843" r="5" fill="#fff" stroke="#777"/><text x="98" y="847" textLength="17" lengthAdjust="spacingAndGlyphs">Like</text>
<circle cx="139" cy="843" r="5" fill="#333" stroke="#777"/><text x="146" y="847" textLength="26" lengthAdjust="spacingAndGlyphs">Dislike</text>
<rect x="162" y="887" width="35" height="27" fill="#0c2a50"/><text x="170" y="905" style="fill:#fff">Save</text>
<text x="225" y="880" textLength="140" lengthAdjust="spacingAndGlyphs" font-weight="bold">Your Upward Mode Interpretation</text>
<text x="410" y="880" textLength="153" lengthAdjust="spacingAndGlyphs" font-weight="bold">Your Downward Mode Interpretation</text>
<text x="218" y="901" textLength="125" lengthAdjust="spacingAndGlyphs">upward mode interpretation......</text>
<text x="410" y="901" textLength="130" lengthAdjust="spacingAndGlyphs">downward mode interpretation....</text>
<!-- window 2 -->
<rect x="200" y="987" width="380" height="22" fill="#ccc"/><rect x="279" y="987" width="64" height="22" fill="#eee"/>
<rect x="84" y="966" width="8" height="12" fill="#d04010"/>
<text x="96" y="976" textLength="52" lengthAdjust="spacingAndGlyphs">MATLAB App</text>
<text x="208" y="1001" textLength="58" lengthAdjust="spacingAndGlyphs">Interpretations</text>
<text x="285" y="1001" textLength="42" lengthAdjust="spacingAndGlyphs">Check List</text>
<text x="348" y="1001" textLength="54" lengthAdjust="spacingAndGlyphs">Setup/Export</text>
<text x="96" y="1023" textLength="29" lengthAdjust="spacingAndGlyphs" font-weight="bold">Tissue</text>
<text x="94" y="1112" textLength="44" lengthAdjust="spacingAndGlyphs" font-weight="bold">Biomarker</text>
<text x="96" y="1208" textLength="38" lengthAdjust="spacingAndGlyphs" font-weight="bold">PC Mode</text>
<g fill="#fff" stroke="#aaa"><rect x="94" y="1036" width="92" height="30"/><rect x="94" y="1124" width="92" height="32"/><rect x="94" y="1221" width="92" height="34"/></g>
<text x="97" y="1055" textLength="26" lengthAdjust="spacingAndGlyphs">Femur</text>
<text x="97" y="1145" textLength="66" lengthAdjust="spacingAndGlyphs">Cartilage Thick...</text>
<text x="97" y="1242" textLength="18" lengthAdjust="spacingAndGlyphs">PC 8</text>
<text x="100" y="1370" textLength="79" lengthAdjust="spacingAndGlyphs" font-weight="bold">Interpretation Vote</text>
<circle cx="89" cy="1390" r="5" fill="#333" stroke="#777"/><text x="96" y="1394" textLength="17" lengthAdjust="spacingAndGlyphs">Like</text>
<circle cx="136" cy="1390" r="5" fill="#fff" stroke="#777"/><text x="144" y="1394" textLength="26" lengthAdjust="spacingAndGlyphs">Dislike</text>
<rect x="160" y="1435" width="35" height="27" fill="#0c2a50"/><text x="168" y="1453" style="fill:#fff">Save</text>
<!-- table -->
<rect x="202" y="1009" width="368" height="27" fill="#f5f5f5"/>
<path d="M202,1082h368v23h-368ZM202,1128h368v23h-368ZM202,1173h368v23h-368ZM202,1219h368v23h-368ZM202,1264h368v23h-368ZM202,1310h368v23h-368ZM202,1355h368v23h-368ZM202,1401h368v23h-368Z" fill="#ededed"/>
<rect x="202" y="1036" width="20" height="420" fill="#c8d8ea"/><rect x="222" y="1036" width="66" height="420" fill="#dde9f7"/>
<rect x="222" y="1036" width="66" height="68" fill="#5aa85a"/>
<rect x="470" y="1036" width="100" height="46" fill="#a8c8f0"/><rect x="470" y="1082" width="100" height="23" fill="#e8a0c8"/>
<rect x="570" y="1036" width="10" height="420" fill="#f0f0f0"/><rect x="570" y="1036" width="10" height="80" fill="#aaa"/>
<rect x="202" y="1456" width="378" height="14" fill="#eee"/><rect x="235" y="1456" width="124" height="14" fill="#bbb"/>
<text x="224" y="1027" textLength="52" lengthAdjust="spacingAndGlyphs" font-weight="bold">Complete ↓</text><text x="291" y="1027" textLength="28" lengthAdjust="spacingAndGlyphs">Tissue</text><text x="347" y="1027" textLength="44" lengthAdjust="spacingAndGlyphs">Biomarker</text><text x="417" y="1027">PC</text><text x="473" y="1027" textLength="78" lengthAdjust="spacingAndGlyphs">Vote of Agreement</text>
<path d="M250,1042h10v12h-10Zm0,23h10v12h-10Zm0,23h10v12h-10Zm0,22h10v12h-10Zm0,23h10v12h-10Zm0,23h10v12h-10Zm0,23h10v12h-10Zm0,23h10v12h-10Zm0,23h10v12h-10Zm0,22h10v12h-10Zm0,23h10v12h-10Zm0,23h10v12h-10Zm0,23h10v12h-10Zm0,23h10v12h-10Zm0,22h10v12h-10Zm0,23h10v12h-10Zm0,23h10v12h-10Zm0,23h10v12h-10Z" fill="#fff" stroke="#888"/>
<path d="M518,1042h10v12h-10Zm0,23h10v12h-10Zm0,23h10v12h-10Zm0,22h10v12h-10Zm0,23h10v12h-10Zm0,23h10v12h-10Zm0,23h10v12h-10Zm0,23h10v12h-10Zm0,23h10v12h-10Zm0,22h10v12h-10Zm0,23h10v12h-10Zm0,23h10v12h-10Zm0,23h10v12h-10Zm0,23h10v12h-10Zm0,22h10v12h-10Zm0,23h10v12h-10Zm0,23h10v12h-10Zm0,23h10v12h-10Z" fill="#fff" stroke="#888"/>
<text x="208" y="1051" font-size="11">1</text><text x="291" y="1051" textLength="25" lengthAdjust="spacingAndGlyphs">Femur</text><text x="347" y="1051" textLength="63" lengthAdjust="spacingAndGlyphs">Cartilage Thic...</text><text x="462" y="1051">8</text>
<text x="208" y="1074">2</text><text x="291" y="1074" textLength="25" lengthAdjust="spacingAndGlyphs">Femur</text><text x="347" y="1074" textLength="63" lengthAdjust="spacingAndGlyphs">Cartilage Thic...</text><text x="462" y="1074">9</text>
<text x="208" y="1097">3</text><text x="291" y="1097" textLength="25" lengthAdjust="spacingAndGlyphs">Femur</text><text x="347" y="1097" textLength="63" lengthAdjust="spacingAndGlyphs">Cartilage Thic...</text><text x="458" y="1097">10</text>
<text x="208" y="1119">4</text><text x="291" y="1119" textLength="25" lengthAdjust="spacingAndGlyphs">Femur</text><text x="347" y="1119" textLength="49" lengthAdjust="spacingAndGlyphs">Bone Shape</text><text x="462" y="1119">1</text>
<text x="208" y="1142">5</text><text x="291" y="1142" textLength="25" lengthAdjust="spacingAndGlyphs">Femur</text><text x="347" y="1142" textLength="49" lengthAdjust="spacingAndGlyphs">Bone Shape</text><text x="462" y="1142">2</text>
<text x="208" y="1165">6</text><text x="291" y="1165" textLength="25" lengthAdjust="spacingAndGlyphs">Femur</text><text x="347" y="1165" textLength="49" lengthAdjust="spacingAndGlyphs">Bone Shape</text><text x="462" y="1165">3</text>
<text x="208" y="1188">7</text><text x="291" y="1188" textLength="25" lengthAdjust="spacingAndGlyphs">Femur</text><text x="347" y="1188" textLength="49" lengthAdjust="spacingAndGlyphs">Bone Shape</text><text x="462" y="1188">4</text>
<text x="208" y="1211">8</text><text x="291" y="1211" textLength="25" lengthAdjust="spacingAndGlyphs">Femur</text><text x="347" y="1211" textLength="49" lengthAdjust="spacingAndGlyphs">Bone Shape</text><text x="462" y="1211">5</text>
<text x="208" y="1234">9</text><text x="291" y="1234" textLength="25" lengthAdjust="spacingAndGlyphs">Femur</text><text x="347" y="1234" textLength="49" lengthAdjust="spacingAndGlyphs">Bone Shape</text><text x="462" y="1234">6</text>
<text x="206" y="1256">10</text><text x="291" y="1256" textLength="25" lengthAdjust="spacingAndGlyphs">Femur</text><text x="347" y="1256" textLength="49" lengthAdjust="spacingAndGlyphs">Bone Shape</text><text x="462" y="1256">7</text>
<text x="206" y="1279">11</text><text x="291" y="1279" textLength="25" lengthAdjust="spacingAndGlyphs">Femur</text><text x="347" y="1279" textLength="49" lengthAdjust="spacingAndGlyphs">Bone Shape</text><text x="462" y="1279">8</text>
<text x="206" y="1302">12</text><text x="291" y="1302" textLength="25" lengthAdjust="spacingAndGlyphs">Femur</text><text x="347" y="1302" textLength="49" lengthAdjust="spacingAndGlyphs">Bone Shape</text><text x="462" y="1302">9</text>
<text x="206" y="1325">13</text><text x="291" y="1325" textLength="25" lengthAdjust="spacingAndGlyphs">Femur</text><text x="347" y="1325" textLength="49" lengthAdjust="spacingAndGlyphs">Bone Shape</text><text x="458" y="1325">10</text>
<text x="206" y="1348">14</text><text x="291" y="1348" textLength="27" lengthAdjust="spacingAndGlyphs">Patella</text><text x="347" y="1348" textLength="49" lengthAdjust="spacingAndGlyphs">Bone Shape</text><text x="462" y="1348">1</text>
<text x="206" y="1370">15</text><text x="291" y="1370" textLength="27" lengthAdjust="spacingAndGlyphs">Patella</text><text x="347" y="1370" textLength="49" lengthAdjust="spacingAndGlyphs">Bone Shape</text><text x="462" y="1370">2</text>
<text x="206" y="1393">16</text><text x="291" y="1393" textLength="27" lengthAdjust="spacingAndGlyphs">Patella</text><text x="347" y="1393" textLength="49" lengthAdjust="spacingAndGlyphs">Bone Shape</text><text x="462" y="1393">3</text>
<text x="206" y="1416">17</text><text x="291" y="1416" textLength="27" lengthAdjust="spacingAndGlyphs">Patella</text><text x="347" y="1416" textLength="49" lengthAdjust="spacingAndGlyphs">Bone Shape</text><text x="462" y="1416">4</text>
<text x="206" y="1439">18</text><text x="291" y="1439" textLength="27" lengthAdjust="spacingAndGlyphs">Patella</text><text x="347" y="1439" textLength="49" lengthAdjust="spacingAndGlyphs">Bone Shape</text><text x="462" y="1439">5</text>
</g>

<!-- t-SNE -->
<g class="z" transform="translate(0,1370) scale(.7015,.5128)">
<path d="M855,503H1287L1275,1240H850L838,925Z" fill="#f6f6f6"/>
<path d="M838,925L850,1240H1292L1275,815" stroke="#333" stroke-width="2" fill="none"/>
<path d="M912,1232v14M993,1232v14M1073,1232v14M1154,1232v14M1235,1232v14" stroke="#333" stroke-width="1.500"/>
</g>
<g transform="translate(600,1680) scale(.33333)">
<path d="M10,0L5,750V900M130,0L125,900M295,0V900M460,0V900M620,0V900M785,0L795,900M15,95H890M20,188H890M20,280H885M20,415H880M15,525H885M10,635H890M5,750H895M0,865H900" fill="none" stroke="#c8c8c8" stroke-width="4"/>
<path d="M100,180L160,90L280,55L420,50L500,90L580,120L620,180L740,210L750,300L830,370L850,470L830,570L800,660L740,720L620,765L500,770L400,735L310,680L290,620L215,570L165,530L150,440L80,400L60,320L85,240Z" fill="#fde10a" stroke="#fde10a" stroke-width="22" stroke-linejoin="round"/>
<path d="M280,60h.1M447,68h.1M240,130h.1M300,100h.1M320,130h.1M290,140h.1M225,125h.1M340,115h.1M250,160h.1M210,165h.1M310,180h.1M340,175h.1M230,205h.1M265,230h.1M300,225h.1M300,270h.1M400,220h.1M430,225h.1M445,195h.1M490,180h.1M510,235h.1M485,130h.1M565,115h.1M590,150h.1M520,200h.1M590,240h.1M605,250h.1M350,225h.1M120,245h.1M130,265h.1M105,285h.1M130,295h.1M125,340h.1M90,350h.1M185,350h.1M210,360h.1M120,380h.1M185,400h.1M210,425h.1M140,425h.1M265,320h.1M310,325h.1M330,330h.1M270,440h.1M300,445h.1M255,470h.1M170,460h.1M195,475h.1M215,515h.1M170,530h.1M400,435h.1M430,445h.1M455,465h.1M405,480h.1M450,522h.1M475,410h.1M345,510h.1M345,620h.1M365,620h.1M590,320h.1M625,315h.1M655,330h.1M660,355h.1M590,350h.1M610,400h.1M595,430h.1M765,335h.1M790,350h.1M750,355h.1M825,378h.1M800,395h.1M825,410h.1M850,460h.1M670,410h.1M700,410h.1M720,410h.1M755,420h.1M780,440h.1M735,460h.1M695,470h.1M730,490h.1M770,500h.1M745,530h.1M500,530h.1M545,530h.1M590,530h.1M620,530h.1M700,530h.1M790,530h.1M500,560h.1M530,560h.1M570,560h.1M700,560h.1M730,560h.1M770,560h.1M830,570h.1M490,590h.1M520,590h.1M560,590h.1M600,590h.1M650,590h.1M700,590h.1M760,590h.1M810,600h.1M490,620h.1M520,620h.1M550,620h.1M590,620h.1M640,620h.1M680,620h.1M730,620h.1M790,620h.1M470,650h.1M510,650h.1M560,650h.1M600,650h.1M640,650h.1M690,650h.1M720,650h.1M760,650h.1M800,665h.1M440,680h.1M480,680h.1M540,680h.1M570,680h.1M610,680h.1M650,680h.1M690,680h.1M730,680h.1M760,680h.1M345,700h.1M420,710h.1M460,710h.1M540,710h.1M570,710h.1M620,710h.1M660,710h.1M700,710h.1M750,700h.1M380,735h.1M430,725h.1M560,740h.1M590,740h.1M620,740h.1M700,735h.1M720,730h.1M530,755h.1M580,760h.1M610,760h.1M310,675h.1M335,700h.1M265,100h.1M215,200h.1M370,215h.1M470,155h.1M545,210h.1M630,215h.1M150,410h.1M240,455h.1M630,350h.1M645,440h.1M710,440h.1M680,500h.1M720,510h.1M650,545h.1" fill="none" stroke="#440154" stroke-width="38" stroke-linecap="round" opacity=".95"/>
<path d="M545,578h.1M595,535h.1M672,570h.1M660,630h.1M625,625h.1M485,680h.1M520,700h.1M585,722h.1M630,695h.1M740,570h.1M805,610h.1M755,655h.1M770,580h.1M640,755h.1M705,790h.1M505,785h.1M430,760h.1M468,750h.1M120,475h.1M60,385h.1M80,405h.1M745,220h.1M765,235h.1M640,175h.1M410,50h.1M730,330h.1M530,400h.1M600,480h.1M800,470h.1M820,520h.1M845,535h.1M830,440h.1M65,320h.1M75,265h.1M95,215h.1M125,110h.1M200,78h.1M240,75h.1M330,50h.1M360,50h.1M490,85h.1M525,120h.1M550,95h.1M110,435h.1M165,535h.1M215,565h.1M230,590h.1M300,625h.1M300,650h.1M400,740h.1M625,170h.1M700,230h.1M735,270h.1M760,210h.1M280,210h.1M260,130h.1M290,310h.1M100,320h.1M160,400h.1M230,380h.1M620,370h.1M720,380h.1M680,440h.1M655,530h.1M730,540h.1M560,710h.1M700,680h.1" fill="none" stroke="#fde10a" stroke-width="31" stroke-linecap="round" opacity=".95"/>
</g>
<g class="d" text-anchor="middle">
<text x="638" y="2051" class="d">−40</text><text x="694" y="2051" class="d">−20</text><text x="753" y="2051" class="d">0</text><text x="810" y="2051" class="d">20</text><text x="866" y="2051" class="d">40</text>
<text x="559" y="1899" class="d">40</text><text x="563" y="1931" class="d">20</text><text x="565" y="1963" class="d">0</text><text x="568" y="1994" class="d">−20</text><text x="570" y="2024" class="d">−40</text>
<text x="918" y="1845" class="d">−40</text><text x="919" y="1882" class="d">−20</text><text x="922" y="1918" class="d">0</text><text x="925" y="1958" class="d">20</text><text x="928" y="1995" class="d">40</text>
</g>
<text x="714" y="2080" class="d" textLength="73" lengthAdjust="spacingAndGlyphs">tsne-two</text>
<text transform="translate(528,1926) rotate(90)" class="d" textLength="89" lengthAdjust="spacingAndGlyphs">tsne-three</text>
<text transform="translate(942,1883) rotate(90)" class="d" textLength="75" lengthAdjust="spacingAndGlyphs">tsne-one</text>

<!-- heatmap -->
<g class="z" transform="translate(1080,1370) scale(.7015,.5128)">
<rect x="119" y="627" width="528" height="587" filter="url(#hm)"/>
<g fill="#3b2a7e" opacity=".45"><rect x="119" y="1045" width="151" height="169"/><rect x="270" y="935" width="98" height="110"/><rect x="368" y="880" width="52" height="55"/><rect x="420" y="815" width="60" height="65"/><rect x="480" y="705" width="90" height="110"/><rect x="570" y="627" width="77" height="78"/><rect x="368" y="705" width="112" height="110"/></g>
<g fill="#8fd744" opacity=".3"><rect x="270" y="1045" width="98" height="169"/><rect x="119" y="760" width="151" height="55"/><rect x="368" y="935" width="52" height="110"/><rect x="270" y="880" width="98" height="55"/><rect x="480" y="1045" width="50" height="169"/><rect x="570" y="815" width="77" height="120"/><rect x="182" y="935" width="88" height="110"/><rect x="530" y="1140" width="100" height="74"/></g>
<path d="M119,1214L647,627" stroke="#440154" stroke-width="2" fill="none" opacity=".8"/>
<rect x="119" y="627" width="528" height="587" fill="none" stroke="#222" stroke-width="1"/>
<rect x="680" y="627" width="22" height="587" fill="url(#vir)" stroke="#222" stroke-width="1"/>
<path d="M119,1214v6M230,1214v6M341,1214v6M451,1214v6M563,1214v6M119,1214h-6M119,1091h-6M119,967h-6M119,844h-6M119,721h-6M702,1214h6M702,1113h6M702,1013h6M702,911h6M702,808h6M702,708h6" stroke="#333" stroke-width="1.200" fill="none"/>

<!-- twin signature tibia -->
<path d="M1107,590C1105,520 1140,470 1180,455C1220,448 1270,452 1310,480C1345,520 1355,580 1345,625C1335,660 1320,670 1280,670C1240,670 1220,680 1195,690C1150,685 1110,650 1107,590Z" fill="#00008b"/>
<path d="M1115,590C1112,540 1135,490 1190,482C1200,520 1200,610 1195,640C1170,670 1125,650 1115,590Z" fill="url(#tj)"/>
<path d="M1240,620C1245,570 1260,520 1290,512C1320,520 1345,570 1340,625C1330,660 1290,660 1255,660C1245,655 1240,640 1240,620Z" fill="url(#tj2)"/>
<ellipse cx="1186" cy="578" rx="10" ry="36" fill="#e01808" filter="url(#bs)"/>
<!-- twin femur -->
<g filter="url(#rnd)">
<path d="M1180,738C1130,800 1105,870 1105,920C1115,960 1125,1000 1150,1005L1190,1000L1200,955L1260,955L1270,985L1310,990L1340,965L1350,890C1340,820 1320,770 1295,720L1230,745Z" fill="#00008b"/>
<g clip-path="url(#cpF)"><rect x="1100" y="720" width="260" height="290" fill="#9ad878"/>
<g filter="url(#bm)"><ellipse cx="1240" cy="770" rx="60" ry="30" fill="#f0d030"/><ellipse cx="1195" cy="840" rx="16" ry="38" fill="#f06010"/><ellipse cx="1270" cy="870" rx="14" ry="42" fill="#e06020"/>
<ellipse cx="1150" cy="980" rx="30" ry="26" fill="#e0a020"/><ellipse cx="1310" cy="965" rx="30" ry="26" fill="#d8c040"/><ellipse cx="1130" cy="990" rx="18" ry="15" fill="#702000"/></g></g></g>
<!-- meniscus -->
<path d="M1130,1160C1128,1100 1160,1040 1230,1036C1290,1035 1340,1080 1365,1150C1372,1190 1365,1215 1345,1222C1340,1170 1300,1090 1245,1075C1205,1080 1185,1130 1188,1190C1190,1225 1185,1245 1165,1245C1145,1230 1132,1200 1130,1160Z" fill="#d8bfa2" stroke="#8a7864" stroke-width="1.500"/>
</g>
<g class="d">
<text x="1163" y="2013" text-anchor="middle" class="d" font-size="15">0</text><text x="1241" y="2013" text-anchor="middle" class="d">500</text><text x="1319" y="2013" text-anchor="middle" class="d">1000</text><text x="1396" y="2013" text-anchor="middle" class="d">1500</text><text x="1475" y="2013" text-anchor="middle" class="d">2000</text>
<text x="1154" y="2000" text-anchor="end" class="d">0</text><text x="1154" y="1935" text-anchor="end" class="d">500</text><text x="1154" y="1871" text-anchor="end" class="d">1000</text><text x="1154" y="1808" text-anchor="end" class="d">1500</text><text x="1154" y="1745" text-anchor="end" class="d">2000</text>
<text x="1582" y="2000" class="d">0</text><text x="1582" y="1946" class="d">100</text><text x="1582" y="1895" class="d">200</text><text x="1582" y="1842" class="d">300</text><text x="1582" y="1790" class="d">400</text><text x="1582" y="1738" class="d">500</text>
</g>
</svg>
</body></html>
